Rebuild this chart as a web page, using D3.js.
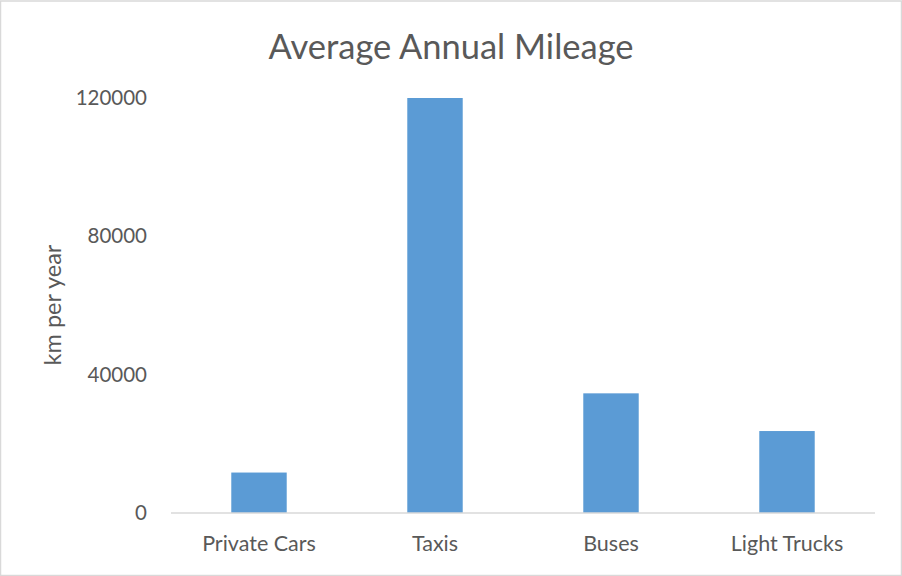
<!DOCTYPE html>
<html>
<head>
<meta charset="utf-8">
<script src="https://cdn.jsdelivr.net/npm/d3@7"></script>
<style>
  html, body { margin: 0; padding: 0; background: #fff; }
  svg { display: block; }
</style>
</head>
<body>
<svg id="chart" width="902" height="576"></svg>
<script>
const categories = ["Private Cars", "Taxis", "Buses", "Light Trucks"];
const values = [11700, 120000, 34600, 23700];
const yTicks = [0, 40000, 80000, 120000];
const title = "Average Annual Mileage";
const yLabel = "km per year";

const W = 902, H = 576;
const svg = d3.select("#chart");
const font = "Lato, 'Open Sans', sans-serif";
const textColor = "#595959";

// outer border
svg.append("rect")
  .attr("x", 0.5).attr("y", 1).attr("width", W - 1).attr("height", H - 1.5)
  .attr("fill", "#fff").attr("stroke", "#d9d9d9").attr("stroke-width", 1.5);

const x = d3.scaleBand()
  .domain(categories)
  .range([171, 875])
  .paddingInner(0.685)
  .paddingOuter(0.3425);

const y = d3.scaleLinear()
  .domain([0, 120000])
  .range([513, 98]);

// bars
svg.append("g").selectAll("rect")
  .data(categories)
  .join("rect")
  .attr("x", d => x(d))
  .attr("width", x.bandwidth())
  .attr("y", (d, i) => y(values[i]))
  .attr("height", (d, i) => y(0) - y(values[i]))
  .attr("fill", "#5b9bd5");

// x axis
const xAxis = svg.append("g")
  .attr("transform", `translate(0,${y(0)})`)
  .call(d3.axisBottom(x).tickSize(0).tickPadding(23));
xAxis.select(".domain").attr("stroke", "#d9d9d9").attr("stroke-width", 1.5)
  .attr("d", `M171,0H875`);
xAxis.selectAll("text")
  .attr("font-family", font).attr("font-size", 21.5).attr("fill", textColor);

// y axis
const yAxis = svg.append("g")
  .attr("transform", `translate(147,0)`)
  .call(d3.axisLeft(y).tickValues(yTicks).tickSize(0).tickPadding(0).tickFormat(d3.format("d")));
yAxis.select(".domain").remove();
yAxis.selectAll("text")
  .attr("font-family", font).attr("font-size", 20.5).attr("fill", textColor);

// title
svg.append("text")
  .attr("x", 451).attr("y", 59)
  .attr("text-anchor", "middle")
  .attr("font-family", font).attr("font-size", 34.5)
  .attr("fill", textColor)
  .text(title);

// y label
svg.append("text")
  .attr("transform", `translate(61,305) rotate(-90)`)
  .attr("text-anchor", "middle")
  .attr("font-family", font).attr("font-size", 23.5)
  .attr("fill", textColor)
  .text(yLabel);
</script>
</body>
</html>
